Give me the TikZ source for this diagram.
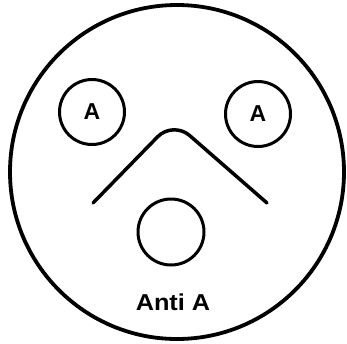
\documentclass[tikz,border=0pt]{standalone}
\usepackage{fontspec}
\setmainfont{Liberation Sans}
\begin{document}
\begin{tikzpicture}[x=1pt, y=-1pt, font=\bfseries]
\useasboundingbox (0,0) rectangle (347,343);
\coordinate (O) at (177,172); \draw[line width=3.8pt] (O) circle (167);
\node[draw, circle, line width=3pt, minimum size=65pt, inner sep=0pt, font=\fontsize{23}{26}\bfseries\selectfont] (L) at (92,112) {A};
\node[draw, circle, line width=3pt, minimum size=65pt, inner sep=0pt, font=\fontsize{23}{26}\bfseries\selectfont] (R) at (258,114) {A};
\coordinate (P) at (93,203); \coordinate (Q) at (173,121); \coordinate (S) at (267,203);
\draw[line width=3.5pt, line cap=round, rounded corners=22pt] (P)--(Q)--(S);
\node[draw, circle, line width=3pt, minimum size=66pt, inner sep=0pt] (M) at (171,232) {};
\node[xscale=1.1, font=\fontsize{23}{26}\bfseries\selectfont] (T) at (173,302) {Anti A};
\end{tikzpicture}
\end{document}
